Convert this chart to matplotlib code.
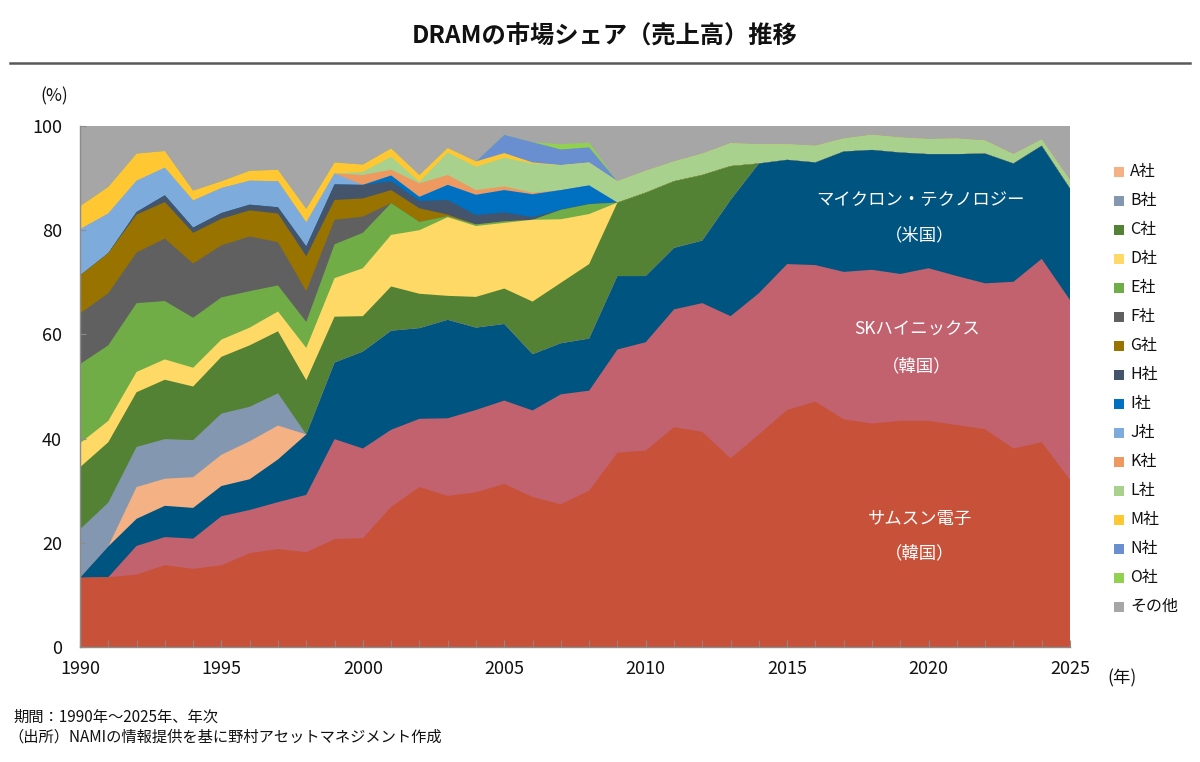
import matplotlib
matplotlib.use("Agg")
import matplotlib.pyplot as plt
import numpy as np
from matplotlib.lines import Line2D
from matplotlib.patches import Rectangle

plt.rcParams['font.family'] = ['Noto Sans CJK JP', 'DejaVu Sans']

years = list(range(1990, 2026))

samsung = [13.3, 13.4, 13.9, 15.7, 15.0, 15.7, 18.0, 18.8, 18.2, 20.7, 20.9, 26.9, 30.7, 29.0, 29.7, 31.3, 28.8, 27.4,
           30.0, 37.3, 37.7, 42.2, 41.3, 36.2, 40.8, 45.5, 47.1, 43.7, 42.9, 43.4, 43.4, 42.6, 41.8, 38.1, 39.3, 32.1]
skhynix = [0, 0, 5.5, 5.4, 5.8, 9.4, 8.3, 9.0, 11.0, 19.2, 17.2, 14.8, 13.1, 14.9, 15.8, 16.0, 16.6, 21.1,
           19.2, 19.8, 20.8, 22.6, 24.7, 27.3, 27.1, 28.0, 26.2, 28.3, 29.5, 28.2, 29.3, 28.6, 28.0, 32.0, 35.2, 34.5]
micron = [0, 5.9, 5.2, 6.0, 5.9, 5.8, 5.9, 8.2, 11.6, 14.7, 18.6, 19.0, 17.4, 18.9, 15.8, 14.7, 10.8, 9.8,
          10.0, 14.1, 12.7, 11.8, 12.0, 22.3, 24.9, 20.0, 19.7, 23.1, 23.0, 23.3, 21.9, 23.4, 24.9, 22.7, 21.7, 21.4]
co_a = [0, 0, 6.1, 5.2, 5.9, 6.0, 7.3, 6.5] + [0] * 28
co_b = [9.3, 8.4, 7.7, 7.6, 7.1, 7.9, 6.6, 6.2] + [0] * 28
co_c = [11.9, 11.6, 10.5, 11.4, 10.3, 10.9, 11.8, 11.9, 10.4, 8.8, 6.8, 8.5, 6.6, 4.6, 5.9, 6.8, 10.1, 11.6,
        14.3, 14.1, 16.0, 12.8, 12.6, 6.5] + [0] * 12
co_d = [4.6, 4.1, 3.9, 3.9, 3.6, 3.3, 3.4, 3.8, 6.2, 7.4, 9.2, 9.9, 12.2, 15.1, 13.6, 12.6, 15.7, 12.2,
        9.6] + [0] * 17
co_e = [15.2, 14.5, 13.2, 11.2, 9.6, 8.1, 7.0, 5.0, 5.0, 6.5, 6.8, 6.1, 1.6, 0.2, 0.3, 0.3, 0, 1.8,
        1.9] + [0] * 17
co_f = [9.7, 10.0, 9.7, 12.0, 10.4, 10.0, 10.5, 8.3, 5.9, 4.7, 3.1] + [0] * 25
co_g = [7.3, 7.7, 7.3, 7.0, 5.9, 5.1, 5.0, 5.5, 6.7, 3.8, 3.5, 2.5, 2.6, 0.3] + [0] * 22
co_h = [0, 0, 0.5, 1.3, 1.0, 1.1, 1.1, 1.2, 1.9, 3.0, 2.6, 1.7, 1.4, 2.8, 1.8, 1.7, 0.5] + [0] * 19
co_i = [0] * 11 + [1.1, 0.8, 2.9, 3.9, 4.3, 4.4, 3.8, 3.6] + [0] * 17
co_j = [8.9, 7.6, 6.0, 5.3, 5.2, 4.8, 4.6, 5.0, 4.6, 2.1] + [0] * 26
co_k = [0] * 10 + [1.9, 1.1, 2.6, 1.9, 0.9, 0.7, 0.3] + [0] * 19
co_l = [0] * 10 + [0.6, 2.5, 0.3, 4.3, 4.5, 5.5, 5.6, 4.8, 4.4, 4.1, 4.2, 3.8, 4.1, 4.4, 3.7, 3.0, 3.2, 2.5,
                   2.9, 2.9, 2.9, 3.0, 2.5, 1.8, 1.2, 1.6]
co_m = [4.4, 5.1, 5.2, 3.2, 1.9, 1.3, 1.9, 2.2, 2.6, 2.1, 1.4, 1.6, 1.3, 0.9, 1.0, 0.9, 0.2] + [0] * 19
co_n = [0] * 15 + [3.5, 3.9, 3.0, 2.9] + [0] * 17
co_o = [0] * 17 + [1.0, 0.9] + [0] * 17
other = [15.4, 11.7, 5.3, 4.8, 12.4, 10.6, 8.6, 8.4, 15.9, 7.0, 7.4, 4.3, 9.4, 4.2, 6.8, 1.7, 3.1, 3.5,
         3.2, 10.6, 8.6, 6.8, 5.3, 3.3, 3.5, 3.5, 3.8, 2.4, 1.7, 2.2, 2.5, 2.4, 2.8, 5.4, 2.6, 10.4]

legend_labels = ['A社', 'B社', 'C社', 'D社', 'E社', 'F社', 'G社', 'H社', 'I社', 'J社', 'K社', 'L社',
                 'M社', 'N社', 'O社', 'その他']

series = [samsung, skhynix, micron, co_a, co_b, co_c, co_d, co_e, co_f, co_g, co_h, co_i, co_j, co_k,
          co_l, co_m, co_n, co_o, other]
colors = ['#C85239', '#C2626E', '#005480',
          '#F4B183', '#8497B0', '#548235', '#FFD966', '#70AD47', '#606060', '#997300', '#44546A',
          '#0070C0', '#7DACDC', '#EE9960', '#A9D18E', '#FFC832', '#6A8FD0', '#92D050', '#A6A6A6']

fig = plt.figure(figsize=(12, 7.62), dpi=100)
ax = fig.add_axes([80 / 1200, 1 - 647 / 762, 990 / 1200, (647 - 126) / 762])

x = np.array(years)
cum = np.cumsum(np.array(series, dtype=float), axis=0)
# draw from top layer downward so that no seams appear
for i in range(len(series) - 1, -1, -1):
    ax.fill_between(x, 0, cum[i], facecolor=colors[i], edgecolor='none', linewidth=0)

ax.set_xlim(1990, 2025)
ax.set_ylim(0, 100)
ax.set_xticks(range(1990, 2026, 5))
ax.set_xticks(range(1990, 2026), minor=True)
ax.set_yticks(range(0, 101, 20))
for s in ['top', 'right']:
    ax.spines[s].set_visible(False)
for s in ['left', 'bottom']:
    ax.spines[s].set_color('#8C8C8C')
    ax.spines[s].set_linewidth(1.0)
    ax.spines[s].set_zorder(5)
ax.tick_params(axis='x', which='both', direction='in', length=5, color='#8C8C8C', labelsize=13,
               pad=9, labelcolor='#111111')
ax.tick_params(axis='y', which='both', direction='in', length=4, color='#8C8C8C', labelsize=13,
               pad=13, labelcolor='#111111')

# in-chart labels
ax_lbl = dict(ha='center', va='center', color='white', fontsize=12.5)
fig.text(920 / 1200, 1 - 200 / 762, 'マイクロン・テクノロジー', **ax_lbl)
fig.text(920 / 1200, 1 - 235 / 762, '（米国）', **ax_lbl)
fig.text(917 / 1200, 1 - 330 / 762, 'SKハイニックス', **ax_lbl)
fig.text(917 / 1200, 1 - 366 / 762, '（韓国）', **ax_lbl)
fig.text(920 / 1200, 1 - 519 / 762, 'サムスン電子', **ax_lbl)
fig.text(920 / 1200, 1 - 553 / 762, '（韓国）', **ax_lbl)

# legend (manual)
for k, lab in enumerate(legend_labels):
    yc = 171.7 + k * 29.0
    fig.patches.append(Rectangle((1114 / 1200, 1 - (yc + 5) / 762), 10 / 1200, 10 / 762,
                                 transform=fig.transFigure, facecolor=colors[3 + k], edgecolor='none'))
    fig.text(1130 / 1200, 1 - yc / 762, lab, ha='left', va='center', fontsize=11.5, color='#111111')

# title and rule
fig.text(605 / 1200, 1 - 37 / 762, 'DRAMの市場シェア（売上高）推移', ha='center', va='center',
         fontsize=17.5, fontweight='bold', color='#111111')
fig.add_artist(Line2D([10 / 1200, 1190 / 1200], [1 - 63 / 762, 1 - 63 / 762], color='#595959',
                      linewidth=1.8, transform=fig.transFigure))

fig.text(54 / 1200, 1 - 96 / 762, '(%)', ha='center', va='center', fontsize=12.5, color='#111111')
fig.text(1122 / 1200, 1 - 678 / 762, '(年)', ha='center', va='center', fontsize=12.5, color='#111111')

fig.text(13 / 1200, 1 - 717 / 762, '期間：1990年～2025年、年次', ha='left', va='center', fontsize=11,
         color='#111111')
fig.text(8 / 1200, 1 - 737 / 762, '（出所）NAMIの情報提供を基に野村アセットマネジメント作成', ha='left',
         va='center', fontsize=11, color='#111111')

fig.savefig('out.png', dpi=100, facecolor='white')
